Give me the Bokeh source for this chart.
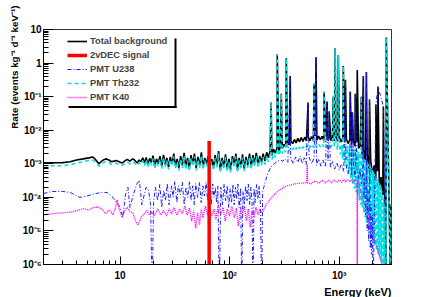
import numpy as np
from bokeh.plotting import figure
from bokeh.models import (FixedTicker, CustomJSTickFormatter, Legend,
                          LegendItem, BoxAnnotation, Title)
from bokeh.embed import file_html
from bokeh.resources import INLINE

FONT = "Liberation Sans"

# ---------------- data (energy in keV) ----------------
# continuum values are in units of 1e-3 events kg^-1 d^-1 keV^-1
tot_e = [2.0, 2.5, 3.0, 3.5, 4.0, 4.6, 5.2, 5.6, 5.9, 6.4, 6.9, 7.4, 7.9, 8.3, 8.8, 9.2, 9.8,
         10.4, 11.0, 11.6, 12.3, 13.0, 13.4, 14.3, 14.9, 15.5, 16.1, 16.7, 17.3, 17.9, 18.6,
         19.3, 20.0, 20.7, 21.5, 22.3, 23.1, 24.0, 24.9, 25.8, 26.7, 27.7, 28.7, 29.8, 30.9,
         32.0, 33.2, 34.4, 35.7, 37.0, 38.4, 39.8, 41.3, 42.8, 44.4, 46.0, 47.7, 49.5, 51.3,
         53.2, 55.2, 57.2, 59.3, 61.5, 63.8, 66.1, 68.6, 71.1, 73.7, 76.5, 79.3, 82.2, 85.3,
         88.4, 91.7, 95.1, 98.6, 102, 106, 110, 114, 118, 122, 127, 131, 136, 141, 146, 152,
         157, 163, 169, 175, 182, 188, 195, 202, 210, 218, 226, 234, 243, 252, 261, 271, 281,
         291, 302, 313, 325, 337, 349, 362, 376, 390, 404, 419, 434, 450, 467, 484, 502, 521,
         540, 560, 581, 603, 625, 648, 672, 697, 723, 750, 778, 807, 837, 868, 900, 934, 968,
         1004, 1041, 1080, 1120, 1162, 1205, 1250, 1296, 1344, 1394, 1446, 1500, 1555, 1613,
         1673, 1735, 1800, 1866, 1936, 2008, 2082, 2160, 2240, 2323, 2409, 2499, 2560, 2620,
         2660, 2950, 2960, 3000]
tot_m = [1.07, 1.07, 1.08, 1.15, 1.30, 1.40, 1.50, 1.60, 1.40, 1.00, 1.25, 1.40, 1.30, 1.15,
         1.20, 1.25, 1.15, 1.05, 1.20, 1.35, 1.20, 1.40, 1.35, 1.05, 1.30, 1.15, 1.50, 1.05,
         1.55, 0.95, 1.45, 1.10, 1.75, 0.85, 1.40, 1.00, 1.70, 0.85, 1.85, 0.95, 1.50, 0.80,
         1.60, 1.00, 2.00, 0.85, 1.40, 0.75, 1.70, 0.90, 2.10, 0.80, 1.50, 0.70, 1.80, 1.00,
         2.00, 0.75, 1.60, 0.90, 2.20, 0.80, 1.50, 1.00, 1.70, 0.85, 1.40, 0.75, 1.80, 0.90,
         2.40, 0.65, 1.50, 0.80, 1.90, 0.70, 1.40, 0.65, 1.70, 0.90, 2.00, 0.65, 1.50, 0.80,
         1.90, 0.70, 1.60, 0.90, 2.00, 0.80, 1.80, 1.00, 2.10, 0.90, 1.70, 1.10, 2.00, 1.20,
         2.20, 1.50, 2.40, 1.80, 2.70, 2.10, 3.00, 2.40, 3.30, 2.80, 3.80, 3.20, 4.30, 3.60,
         4.80, 4.00, 5.30, 4.20, 5.70, 4.50, 6.00, 4.60, 6.20, 4.80, 6.40, 4.90, 6.50, 5.00,
         6.60, 5.00, 6.70, 5.20, 6.60, 5.00, 6.60, 5.00, 6.40, 4.90, 6.30, 4.80, 6.20, 4.70,
         6.00, 4.50, 5.80, 4.30, 5.50, 4.00, 5.20, 3.70, 4.80, 3.40, 4.40, 2.90, 3.40, 1.80,
         2.60, 1.10, 1.90, 0.70, 1.30, 0.45, 0.90, 0.30, 0.60, 0.20, 0.40, 0.12, 0.22, 0.06,
         0.0001, 0.0001, 0.06, 0.06]

th_e = [2.0, 2.5, 3.0, 3.5, 4.0, 4.6, 5.2, 5.6, 5.9, 6.4, 6.9, 7.4, 7.9, 8.3, 8.8, 9.2, 9.8,
        10.4, 11.0, 11.6, 12.3, 13.0, 13.4, 14.3, 14.9, 15.5, 16.1, 16.7, 17.3, 17.9, 18.6,
        19.3, 20.0, 20.7, 21.5, 22.3, 23.1, 24.0, 24.9, 25.8, 26.7, 27.7, 28.7, 29.8, 30.9,
        32.0, 33.2, 34.4, 35.7, 37.0, 38.4, 39.8, 41.3, 42.8, 44.4, 46.0, 47.7, 49.5, 51.3,
        53.2, 55.2, 57.2, 59.3, 61.5, 63.8, 66.1, 68.6, 71.1, 73.7, 76.5, 79.3, 82.2, 85.3,
        88.4, 91.7, 95.1, 98.6, 102, 106, 110, 114, 118, 122, 127, 131, 136, 141, 146, 152,
        157, 163, 169, 175, 182, 188, 195, 202, 210, 218, 226, 234, 243, 252, 261, 271, 281,
        291, 302, 313, 325, 337, 349, 362, 376, 390, 404, 419, 434, 450, 467, 484, 502, 521,
        540, 560, 581, 603, 625, 648, 672, 697, 723, 750, 778, 807, 837, 868, 900, 934, 968,
        1004, 1025, 1050, 1075, 1100, 1125, 1150, 1175, 1200, 1225, 1250, 1275, 1300, 1325,
        1350, 1375, 1400, 1425, 1450, 1475, 1500, 1525, 1550, 1575, 1600, 1625, 1650, 1675,
        1700, 1725, 1750, 1775, 1800, 1825, 1850, 1875, 1900, 1925, 1950, 1975, 2000, 2025,
        2050, 2075, 2100, 2125, 2150, 2175, 2200, 2225, 2250, 2275, 2300, 2325, 2350, 2375,
        2400, 2425, 2450, 2475, 2500, 2525, 2550, 2575, 2600, 2625, 2650, 2670, 2950, 2960,
        3000]
th_m = [0.87, 0.87, 0.88, 0.93, 1.05, 1.15, 1.25, 1.30, 1.15, 0.85, 1.05, 1.15, 1.10, 0.95,
        1.00, 1.05, 0.95, 0.88, 1.00, 1.12, 1.00, 1.15, 1.10, 0.88, 1.08, 0.95, 1.25, 0.88,
        1.30, 0.80, 1.20, 0.92, 1.45, 0.72, 1.15, 0.85, 1.40, 0.72, 1.55, 0.80, 1.25, 0.68,
        1.35, 0.85, 1.65, 0.72, 1.15, 0.64, 1.40, 0.76, 1.75, 0.68, 1.25, 0.60, 1.50, 0.85,
        1.65, 0.64, 1.35, 0.76, 1.80, 0.68, 1.25, 0.85, 1.40, 0.72, 1.15, 0.64, 1.50, 0.76,
        2.00, 0.55, 1.25, 0.68, 1.60, 0.60, 1.15, 0.55, 1.40, 0.76, 1.65, 0.55, 1.25, 0.68,
        1.55, 0.60, 1.30, 0.76, 1.65, 0.68, 1.50, 0.85, 1.70, 0.76, 1.40, 0.90, 1.60, 0.95,
        1.70, 1.15, 1.80, 1.35, 2.00, 1.55, 2.20, 1.75, 2.40, 2.00, 2.70, 2.20, 2.90, 2.40,
        3.10, 2.60, 3.30, 2.70, 3.40, 2.80, 3.50, 2.90, 3.60, 3.00, 3.70, 3.00, 3.80, 3.10,
        3.80, 3.10, 3.90, 3.20, 3.90, 3.20, 3.90, 3.20, 3.80, 3.10, 3.80, 3.00, 3.70, 2.60,
        3.70, 1.90, 3.60, 1.40, 3.60, 1.00, 3.50, 0.70, 3.40, 0.50, 3.30, 0.35, 3.10, 0.25,
        2.90, 0.18, 2.70, 0.14, 2.50, 0.11, 2.30, 0.08, 2.10, 0.06, 1.90, 0.05, 1.70, 0.035,
        1.50, 0.025, 1.30, 0.018, 1.15, 0.014, 1.00, 0.010, 0.85, 0.008, 0.75, 0.006, 0.65,
        0.005, 0.58, 0.004, 0.50, 0.0035, 0.44, 0.003, 0.38, 0.0025, 0.33, 0.002, 0.28,
        0.0018, 0.24, 0.0015, 0.20, 0.0012, 0.16, 0.001, 0.12, 0.0008, 0.09, 0.0006, 0.06,
        0.0005, 0.03, 0.0001, 0.0001, 0.06, 0.06]

u_e = [2.0, 2.4, 3.0, 3.5, 4.3, 5.0, 6.0, 6.8, 7.6, 8.6, 9.3, 10.0, 10.6, 11.2, 11.8, 12.3,
       13.2, 14.2, 15.0, 15.8, 16.5, 17.3, 18.2, 19.0, 19.6, 20.2, 21.0, 22.0, 23.0, 24.0,
       25.0, 26.0, 27.0, 28.0, 29.5, 30.5, 31.5, 33.0, 34.0, 35.5, 37.0, 38.5, 40.0, 41.5,
       43.0, 44.5, 46.0, 47.5, 49.0, 51.0, 53.0, 55.0, 57.0, 59.0, 61.0, 63.0, 66.0, 68.0,
       70.0, 72.0, 74.0, 76.0, 78.0, 80.5, 83.0, 86.0, 89.0, 92.0, 95.0, 98.0, 101, 104, 107,
       110, 113, 116, 119, 122, 126, 129, 132, 136, 140, 144, 148, 152, 156, 160, 163, 167,
       171, 176, 181, 186, 191, 196, 200, 205, 212, 220, 228, 236, 245, 255, 265, 275, 290,
       305, 320, 340, 360, 380, 400, 420, 440, 460, 480, 500, 530, 560, 590, 620, 650, 680,
       710, 750, 790, 830, 870, 910, 950, 1000, 1050, 1100, 1150, 1200, 1250, 1300, 1350,
       1400, 1450, 1500, 1550, 1600, 1640, 1680, 1710, 1740, 1770, 1800, 1830, 1860, 1890,
       1920, 1950, 1980, 2010, 2040, 2700]
u_m = [0.13, 0.15, 0.15, 0.14, 0.10, 0.11, 0.13, 0.14, 0.14, 0.10, 0.07, 0.05, 0.025, 0.12,
       0.20, 0.05, 0.12, 0.25, 0.32, 0.06, 0.11, 0.20, 0.16, 0.06, 0.0001, 0.07, 0.20, 0.08,
       0.24, 0.05, 0.16, 0.08, 0.26, 0.06, 0.22, 0.10, 0.30, 0.07, 0.22, 0.12, 0.28, 0.06,
       0.20, 0.10, 0.30, 0.08, 0.22, 0.06, 0.26, 0.10, 0.28, 0.07, 0.22, 0.11, 0.28, 0.08,
       0.24, 0.06, 0.25, 0.10, 0.20, 0.07, 0.22, 0.0001, 0.20, 0.06, 0.25, 0.08, 0.22, 0.05,
       0.18, 0.07, 0.24, 0.06, 0.20, 0.09, 0.25, 0.05, 0.19, 0.0001, 0.15, 0.06, 0.22, 0.08,
       0.25, 0.06, 0.20, 0.08, 0.0001, 0.18, 0.07, 0.24, 0.09, 0.22, 0.06, 0.0001, 0.15, 0.20,
       0.30, 0.45, 0.60, 0.75, 0.90, 1.00, 1.10, 1.20, 1.30, 1.20, 1.40, 1.10, 1.50, 1.00,
       1.60, 1.10, 1.70, 1.00, 1.50, 0.95, 1.60, 1.00, 1.50, 0.90, 1.40, 0.85, 1.30, 0.80,
       1.20, 0.75, 1.15, 0.70, 1.10, 0.65, 1.00, 0.60, 0.95, 0.50, 0.90, 0.45, 0.85, 0.40,
       0.80, 0.35, 0.70, 0.25, 0.55, 0.10, 0.40, 0.03, 0.25, 0.01, 0.15, 0.005, 0.10, 0.003,
       0.06, 0.002, 0.03, 0.0001, 0.0001]

k_e = [2.0, 2.5, 3.0, 3.5, 4.0, 4.6, 5.2, 5.6, 6.2, 6.8, 7.4, 8.0, 8.6, 9.0, 9.4, 9.9, 10.4,
       11.0, 11.6, 12.3, 13.1, 13.8, 14.6, 15.5, 16.5, 17.5, 18.5, 19.5, 20.5, 22.0, 23.5,
       25.0, 26.5, 28.0, 29.5, 31.0, 33.0, 35.0, 37.0, 39.0, 41.0, 43.0, 45.0, 47.0, 49.0,
       51.0, 53.0, 55.0, 57.0, 60.0, 63.0, 66.0, 69.0, 72.0, 75.0, 79.0, 83.0, 87.0, 91.0,
       95.0, 100, 105, 110, 115, 120, 125, 130, 136, 142, 148, 154, 160, 167, 174, 181, 188,
       195, 203, 212, 222, 232, 243, 255, 268, 281, 295, 310, 325, 340, 360, 380, 400, 425,
       450, 480, 505, 510, 515, 550, 600, 650, 700, 750, 800, 850, 900, 950, 1000, 1050, 1100,
       1150, 1200, 1250, 1300, 1350, 1400, 1455, 1470, 3000]
k_m = [0.030, 0.033, 0.035, 0.036, 0.040, 0.046, 0.042, 0.048, 0.052, 0.045, 0.033, 0.042,
       0.030, 0.045, 0.085, 0.040, 0.026, 0.040, 0.050, 0.038, 0.034, 0.020, 0.015, 0.025,
       0.032, 0.040, 0.030, 0.036, 0.028, 0.045, 0.030, 0.040, 0.028, 0.046, 0.032, 0.050,
       0.030, 0.045, 0.033, 0.055, 0.030, 0.048, 0.020, 0.040, 0.012, 0.035, 0.015, 0.045,
       0.025, 0.055, 0.030, 0.050, 0.028, 0.045, 0.022, 0.060, 0.030, 0.050, 0.020, 0.045,
       0.028, 0.055, 0.025, 0.048, 0.014, 0.040, 0.030, 0.055, 0.020, 0.045, 0.013, 0.040,
       0.025, 0.050, 0.030, 0.045, 0.035, 0.040, 0.055, 0.070, 0.085, 0.100, 0.120, 0.140,
       0.160, 0.175, 0.200, 0.210, 0.225, 0.235, 0.245, 0.255, 0.260, 0.265, 0.270, 0.270,
       0.950, 0.270, 0.250, 0.310, 0.260, 0.320, 0.270, 0.320, 0.270, 0.330, 0.280, 0.330,
       0.280, 0.335, 0.285, 0.335, 0.290, 0.340, 0.290, 0.340, 0.300, 0.330, 0.0001, 0.0001]

# gamma lines (energy keV, peak rate in events kg^-1 d^-1 keV^-1)
th_pk_e = [239, 272, 296, 329, 590, 728, 881, 918, 981, 1090, 1590, 2690]
th_pk_v = [0.067, 1.84, 0.122, 1.40, 0.24, 0.14, 0.10, 2.76, 1.72, 0.82, 0.10, 5.8]
u_pk_e = [357, 520, 614, 776, 810, 1140, 1260, 1320, 1400, 1660, 1770, 1890, 2160, 2260, 2530]
u_pk_v = [0.41, 0.067, 1.5, 0.071, 0.036, 0.316, 0.14, 0.034, 0.122, 0.41, 0.54, 0.082,
          0.058, 0.197, 0.051]
k_pk_e = [1461]
k_pk_v = [0.62]

# 2vDEC signal line
sig_e = [65.0]
sig_v = [4.8e-3]

x_major = [10, 100, 1000]
x_minor = [3, 4, 5, 6, 7, 8, 9, 20, 30, 40, 50, 60, 70, 80, 90,
           200, 300, 400, 500, 600, 700, 800, 900, 2000, 3000]
y_major = [1e-6, 1e-5, 1e-4, 1e-3, 1e-2, 1e-1, 1, 10]

legend_labels = ["Total background", "2vDEC signal", "PMT U238", "PMT Th232", "PMT K40"]
x_title = "Energy (keV)"
y_title = "Rate (events kg\u207b\u00b9 d\u207b\u00b9 keV\u207b\u00b9)"


def curve(ce, cm, pe=(), pv=()):
    e = np.concatenate([np.asarray(ce, float), np.asarray(pe, float)])
    v = np.concatenate([np.asarray(cm, float) * 1e-3, np.asarray(pv, float)])
    o = np.argsort(e, kind="stable")
    return e[o], v[o]


tot_x, tot_y = curve(tot_e, tot_m, th_pk_e + u_pk_e + k_pk_e, th_pk_v + u_pk_v + k_pk_v)
th_x, th_y = curve(th_e, th_m, th_pk_e, th_pk_v)
u_x, u_y = curve(u_e, u_m, u_pk_e, u_pk_v)
k_x, k_y = curve(k_e, k_m, k_pk_e, k_pk_v)

y_minor = [m * d for d in y_major[:-1] for m in range(2, 10)]

# layout (pixels)
W, H = 436, 297
FL, FR, FT, FB = 43, 45, 29, 30
XMIN, XMAX, YMIN, YMAX = 2, 3000, 1e-6, 10


def px_x(px):
    return XMIN * 10 ** ((px - FL) / (W - FL - FR) * np.log10(XMAX / XMIN))


def px_y(py):
    return YMAX * 10 ** (-(py - FT) / (H - FT - FB) * np.log10(YMAX / YMIN))


p = figure(width=W, height=H, x_axis_type="log", y_axis_type="log",
           x_range=(XMIN, XMAX), y_range=(YMIN, YMAX), output_backend="svg",
           toolbar_location=None, min_border_left=FL, min_border_right=FR,
           min_border_top=FT, min_border_bottom=FB)
p.xgrid.grid_line_color = None
p.ygrid.grid_line_color = None
p.outline_line_color = "#333333"
p.outline_line_width = 1
p.background_fill_color = "white"
p.border_fill_color = "white"

fmt = CustomJSTickFormatter(code="""
const e = Math.round(Math.log10(tick));
if (e === 0) return "1";
if (e === 1) return "10";
const m = {"-": "\u207b", "0": "\u2070", "1": "\u00b9", "2": "\u00b2", "3": "\u00b3",
           "4": "\u2074", "5": "\u2075", "6": "\u2076", "7": "\u2077", "8": "\u2078", "9": "\u2079"};
return "10" + String(e).split("").map(c => m[c]).join("");
""")

p.xaxis.ticker = FixedTicker(ticks=x_major, minor_ticks=x_minor)
p.yaxis.ticker = FixedTicker(ticks=y_major, minor_ticks=y_minor)
for ax, tin, tmin in ((p.xaxis, 8, 4), (p.yaxis, 10, 5)):
    ax.formatter = fmt
    ax.major_tick_out = 0
    ax.minor_tick_out = 0
    ax.major_tick_in = tin
    ax.minor_tick_in = tmin
    ax.axis_line_color = "black"
    ax.major_tick_line_color = "black"
    ax.minor_tick_line_color = "black"
    ax.major_label_text_font = FONT
    ax.major_label_text_font_style = "bold"
    ax.major_label_text_font_size = "10px"
    ax.major_label_text_color = "black"
p.xaxis.major_label_standoff = 5
p.yaxis.major_label_standoff = 2

r_tot = p.line(tot_x, tot_y, line_color="black", line_width=1.6)
r_th = p.line(th_x, th_y, line_color="#00e0e0", line_width=1.5, line_dash="4 3")
r_u = p.line(u_x, u_y, line_color="#1a1aff", line_width=1.0, line_dash="4 2 1 2")
r_k = p.line(k_x, k_y, line_color="#ff00ff", line_width=1.4, line_dash="1 1")
r_sig = p.segment(x0=sig_e, y0=[1e-7], x1=sig_e, y1=sig_v, line_color="#ff0000", line_width=3.5)

legend = Legend(items=[
    LegendItem(label=legend_labels[0], renderers=[r_tot]),
    LegendItem(label=legend_labels[1], renderers=[r_sig]),
    LegendItem(label=legend_labels[2], renderers=[r_u]),
    LegendItem(label=legend_labels[3], renderers=[r_th]),
    LegendItem(label=legend_labels[4], renderers=[r_k]),
], location=(24, 160))
legend.label_text_font = FONT
legend.label_text_font_style = "bold"
legend.label_text_font_size = "9.3px"
legend.glyph_width = 20
legend.glyph_height = 14
legend.label_height = 14
legend.label_standoff = 3
legend.spacing = 0
legend.padding = 2
legend.margin = 0
legend.border_line_color = None
legend.background_fill_color = "white"
legend.background_fill_alpha = 1
p.add_layout(legend)

# legend shadow (right and bottom edges), placed from frame pixels
for l, r, t, b in ((174, 176, 38, 108.5), (68, 176, 106.5, 108.5)):
    p.add_layout(BoxAnnotation(left=px_x(l), right=px_x(r), top=px_y(t), bottom=px_y(b),
                               fill_color="black", fill_alpha=1, line_color=None,
                               level="overlay"))

tx = Title(text=x_title, align="right", text_font=FONT, text_font_style="bold",
           text_font_size="11px", text_color="black")
ty = Title(text=y_title, align="right", text_font=FONT, text_font_style="bold",
           text_font_size="9.8px", text_color="black")
for t, off in ((tx, 0), (ty, -24)):
    try:
        t.standoff = 0
    except Exception:
        pass
    try:
        t.offset = off
    except Exception:
        pass
p.add_layout(tx, "below")
p.add_layout(ty, "left")

open("out.html", "w").write(file_html(p, INLINE))
